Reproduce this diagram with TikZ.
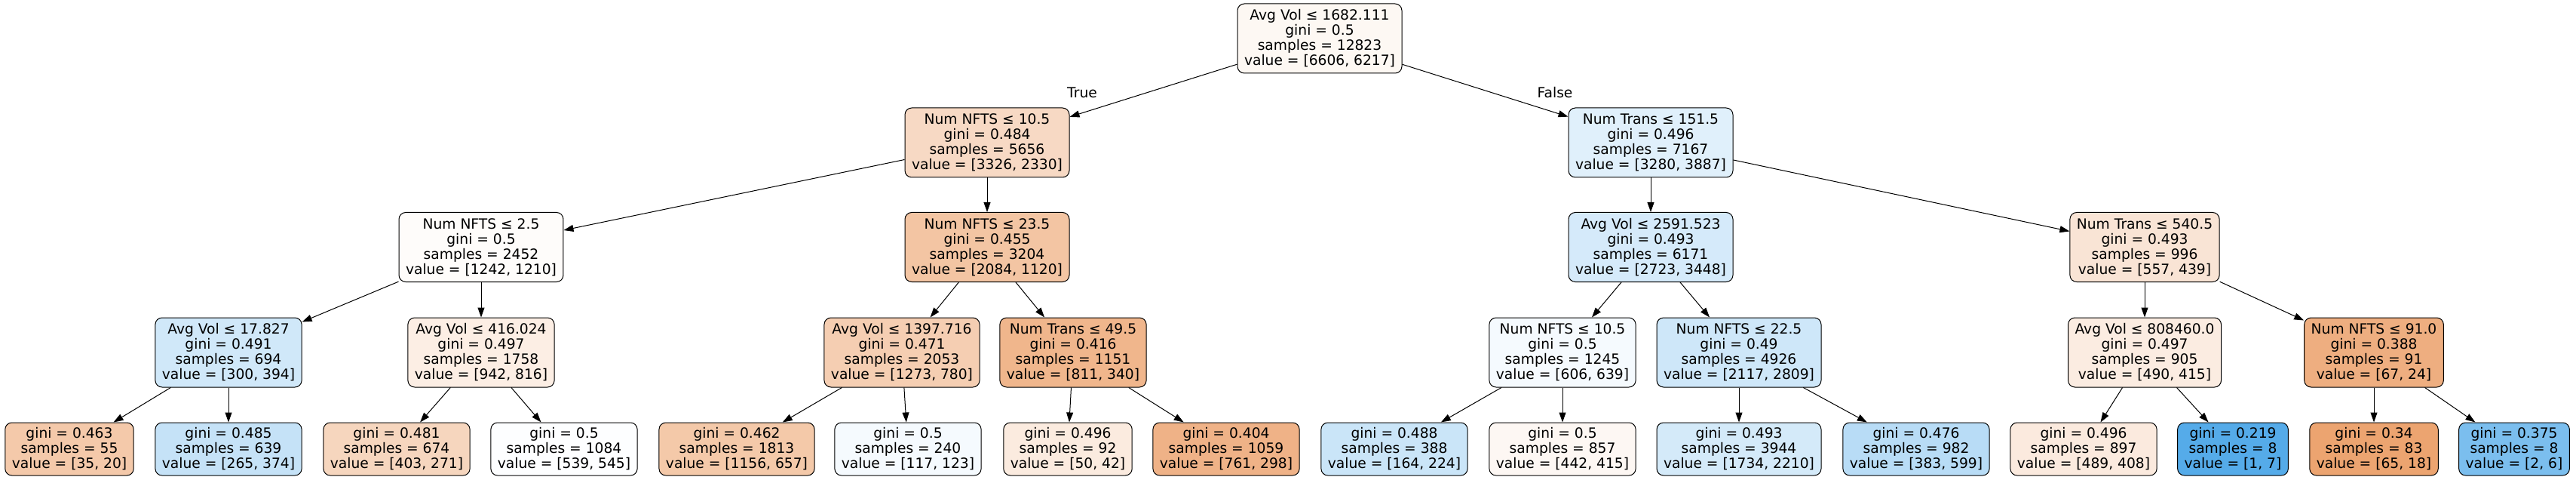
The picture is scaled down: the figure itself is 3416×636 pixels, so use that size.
\documentclass[tikz,border=0pt]{standalone}
\usepackage{fontspec}
\setmainfont{DejaVu Sans}
\usepackage{tikz}
\usetikzlibrary{arrows.meta, positioning}
\definecolor{clsA}{RGB}{229,129,57}
\definecolor{clsB}{RGB}{57,157,229}
\tikzstyle{split}=[draw=black, line width=1pt, rounded corners=9pt, align=center, inner xsep=9pt, inner ysep=0pt, minimum height=92pt, font=\fontsize{18.67}{20}\selectfont]
\tikzstyle{leaf}=[split, minimum height=70pt]
\tikzstyle{edge}=[->, line width=1pt]
\tikzstyle{lbl}=[inner sep=0pt, font=\fontsize{18.67}{20}\selectfont]
\tikzset{>={Triangle[length=13pt,width=9pt]}}

\begin{document}
\begin{tikzpicture}[x=1pt, y=-1pt]
\useasboundingbox (0,0) rectangle (3416,636);
\node[split, fill=clsA!5.9!white] (N0) at (1750,51) {Avg Vol ≤ 1682.111\\gini = 0.5\\samples = 12823\\value = [6606, 6217]};
\node[split, fill=clsA!29.9!white] (N10) at (1309,189) {Num NFTS ≤ 10.5\\gini = 0.484\\samples = 5656\\value = [3326, 2330]};
\node[split, fill=clsB!15.6!white] (N11) at (2189,189) {Num Trans ≤ 151.5\\gini = 0.496\\samples = 7167\\value = [3280, 3887]};
\node[split, fill=clsA!2.6!white] (N20) at (638,327.5) {Num NFTS ≤ 2.5\\gini = 0.5\\samples = 2452\\value = [1242, 1210]};
\node[split, fill=clsA!46.3!white] (N21) at (1309,327.5) {Num NFTS ≤ 23.5\\gini = 0.455\\samples = 3204\\value = [2084, 1120]};
\node[split, fill=clsB!21.0!white] (N22) at (2189,327.5) {Avg Vol ≤ 2591.523\\gini = 0.493\\samples = 6171\\value = [2723, 3448]};
\node[split, fill=clsA!21.2!white] (N23) at (2844,327.5) {Num Trans ≤ 540.5\\gini = 0.493\\samples = 996\\value = [557, 439]};
\node[split, fill=clsB!23.9!white] (N30) at (303,467) {Avg Vol ≤ 17.827\\gini = 0.491\\samples = 694\\value = [300, 394]};
\node[split, fill=clsA!13.4!white] (N31) at (638,467) {Avg Vol ≤ 416.024\\gini = 0.497\\samples = 1758\\value = [942, 816]};
\node[split, fill=clsA!38.7!white] (N32) at (1196,467) {Avg Vol ≤ 1397.716\\gini = 0.471\\samples = 2053\\value = [1273, 780]};
\node[split, fill=clsA!58.1!white] (N33) at (1423,467) {Num Trans ≤ 49.5\\gini = 0.416\\samples = 1151\\value = [811, 340]};
\node[split, fill=clsB!5.2!white] (N34) at (2072,467) {Num NFTS ≤ 10.5\\gini = 0.5\\samples = 1245\\value = [606, 639]};
\node[split, fill=clsB!24.6!white] (N35) at (2306,467) {Num NFTS ≤ 22.5\\gini = 0.49\\samples = 4926\\value = [2117, 2809]};
\node[split, fill=clsA!15.3!white] (N36) at (2844,467) {Avg Vol ≤ 808460.0\\gini = 0.497\\samples = 905\\value = [490, 415]};
\node[split, fill=clsA!64.2!white] (N37) at (3148,467) {Num NFTS ≤ 91.0\\gini = 0.388\\samples = 91\\value = [67, 24]};

% leaves, two per node of the row above
\foreach \x/\txt/\fc [count=\i from 0] in {
 92/{gini = 0.463\\samples = 55\\value = [35, 20]}/clsA!42.9!white,
 303/{gini = 0.485\\samples = 639\\value = [265, 374]}/clsB!29.1!white,
 526/{gini = 0.481\\samples = 674\\value = [403, 271]}/clsA!32.8!white,
 748/{gini = 0.5\\samples = 1084\\value = [539, 545]}/clsB!1.1!white,
 977/{gini = 0.462\\samples = 1813\\value = [1156, 657]}/clsA!43.2!white,
 1204/{gini = 0.5\\samples = 240\\value = [117, 123]}/clsB!4.9!white,
 1416/{gini = 0.496\\samples = 92\\value = [50, 42]}/clsA!16!white,
 1626/{gini = 0.404\\samples = 1059\\value = [761, 298]}/clsA!60.8!white,
 1849/{gini = 0.488\\samples = 388\\value = [164, 224]}/clsB!26.8!white,
 2072/{gini = 0.5\\samples = 857\\value = [442, 415]}/clsA!6.1!white,
 2306/{gini = 0.493\\samples = 3944\\value = [1734, 2210]}/clsB!21.5!white,
 2541/{gini = 0.476\\samples = 982\\value = [383, 599]}/clsB!36.1!white,
 2763/{gini = 0.496\\samples = 897\\value = [489, 408]}/clsA!16.6!white,
 2961/{gini = 0.219\\samples = 8\\value = [1, 7]}/clsB!85.7!white,
 3148/{gini = 0.34\\samples = 83\\value = [65, 18]}/clsA!72.3!white,
 3334/{gini = 0.375\\samples = 8\\value = [2, 6]}/clsB!66.7!white}{
\pgfmathtruncatemacro{\p}{\i/2}
\node[leaf, fill=\fc] (L\i) at (\x,595) {\txt};
\draw[edge] (N3\p) -- (L\i);
}

\draw[edge] (N0) -- (N10);
\draw[edge] (N0) -- (N11);
\draw[edge] (N10) -- (N20);
\draw[edge] (N10) -- (N21);
\draw[edge] (N11) -- (N22);
\draw[edge] (N11) -- (N23);
\draw[edge] (N20) -- (N30);
\draw[edge] (N20) -- (N31);
\draw[edge] (N21) -- (N32);
\draw[edge] (N21) -- (N33);
\draw[edge] (N22) -- (N34);
\draw[edge] (N22) -- (N35);
\draw[edge] (N23) -- (N36);
\draw[edge] (N23) -- (N37);

\node[lbl] (tT) at (1435,123) {True};
\node[lbl] (tF) at (2062,123) {False};
\end{tikzpicture}
\end{document}
